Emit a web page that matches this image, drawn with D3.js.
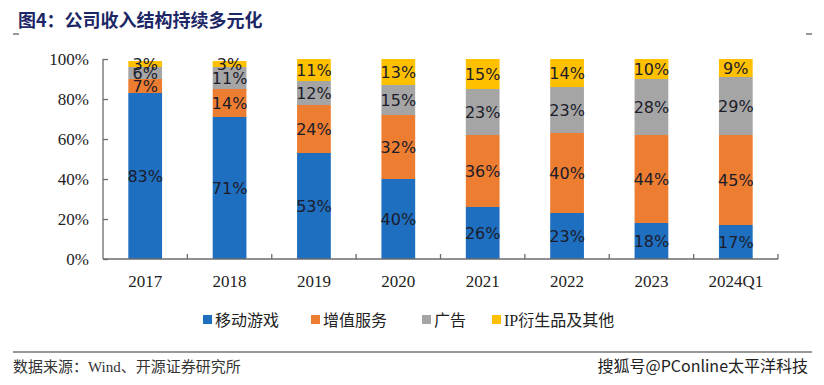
<!DOCTYPE html>
<html>
<head>
<meta charset="utf-8">
<script src="https://cdn.jsdelivr.net/npm/d3@7"></script>
<style>
  body { margin: 0; background: #fff; }
  svg { display: block; }
</style>
</head>
<body>
<svg width="824" height="385"></svg>
<script>
const categories = ["2017", "2018", "2019", "2020", "2021", "2022", "2023", "2024Q1"];
const seriesNames = ["移动游戏", "增值服务", "广告", "IP衍生品及其他"];
const mobileGame = [83, 71, 53, 40, 26, 23, 18, 17];
const valueAdded = [7, 14, 24, 32, 36, 40, 44, 45];
const ads = [6, 11, 12, 15, 23, 23, 28, 29];
const ipOther = [3, 3, 11, 13, 15, 14, 10, 9];
const yTicks = [0, 20, 40, 60, 80, 100];
const colors = ["#1F6FC0", "#ED7D31", "#A5A5A5", "#FFC000"];

const svg = d3.select("svg");
const margin = { left: 103, right: 46, top: 59, bottom: 126 };
const width = 824, height = 385;

const rows = categories.map((c, i) => ({
  cat: c, s0: mobileGame[i], s1: valueAdded[i], s2: ads[i], s3: ipOther[i]
}));
const stack = d3.stack().keys(["s0", "s1", "s2", "s3"])(rows);

const x = d3.scaleBand().domain(categories)
  .range([margin.left, width - margin.right]).paddingInner(0.6).paddingOuter(0.3);
const y = d3.scaleLinear().domain([0, 100]).range([height - margin.bottom, margin.top]);

// title
svg.append("text").attr("x", 18).attr("y", 27)
  .attr("font-family", "Noto Sans CJK SC").attr("font-weight", "bold")
  .attr("font-size", 18).attr("fill", "#1d2766")
  .text("图4：公司收入结构持续多元化");
svg.append("line").attr("x1", 13).attr("x2", 19).attr("y1", 34).attr("y2", 34).attr("stroke", "#333");
svg.append("line").attr("x1", 806).attr("x2", 812).attr("y1", 34).attr("y2", 34).attr("stroke", "#333");

// bars
const g = svg.append("g");
stack.forEach((layer, k) => {
  g.selectAll(null).data(layer).enter().append("rect")
    .attr("x", d => x(d.data.cat))
    .attr("width", x.bandwidth())
    .attr("y", d => y(d[1]))
    .attr("height", d => y(d[0]) - y(d[1]))
    .attr("fill", colors[k]);
  g.selectAll(null).data(layer).enter().append("text")
    .attr("x", d => x(d.data.cat) + x.bandwidth() / 2)
    .attr("y", d => (y(d[0]) + y(d[1])) / 2)
    .attr("dy", "0.36em")
    .attr("text-anchor", "middle")
    .attr("font-family", "DejaVu Sans, sans-serif")
    .attr("font-size", 16)
    .attr("fill", "#1c1c2a")
    .text(d => (d[1] - d[0]) + "%");
});

// y axis
const yAxis = d3.axisLeft(y).tickValues(yTicks).tickFormat(d => d + "%").tickSize(-5).tickPadding(14);
const ya = svg.append("g").attr("transform", `translate(${margin.left},0)`).call(yAxis);
ya.selectAll("text").attr("font-family", "Liberation Serif").attr("font-size", 17).attr("fill", "#222");
ya.selectAll("line, path").attr("stroke", "#6b6b6b").attr("stroke-width", 1.3);
ya.select(".domain").attr("d", `M0,${y(100)}V${y(0)}`);

// x axis
const xa = svg.append("g").attr("transform", `translate(0,${y(0)})`)
  .call(d3.axisBottom(x).tickSize(0).tickPadding(16));
xa.selectAll("text").attr("font-family", "Liberation Serif").attr("font-size", 17).attr("fill", "#222");
xa.select(".domain").attr("stroke", "#6b6b6b").attr("stroke-width", 1.3)
  .attr("d", `M${margin.left},0H${width - margin.right}`);
const step = x.step();
const bounds = categories.map((c, i) => x(c) - (step - x.bandwidth()) / 2 + step);
xa.selectAll(".sep").data(bounds).enter().append("line")
  .attr("x1", d => d).attr("x2", d => d).attr("y1", 0).attr("y2", -5)
  .attr("stroke", "#6b6b6b").attr("stroke-width", 1.3);

// legend
const legX = [203, 311, 422, 492];
const leg = svg.append("g");
seriesNames.forEach((n, i) => {
  leg.append("rect").attr("x", legX[i]).attr("y", 315).attr("width", 9).attr("height", 9).attr("fill", colors[i]);
  leg.append("text").attr("x", legX[i] + 12).attr("y", 326)
    .attr("font-family", "Liberation Serif, Noto Sans CJK SC").attr("font-size", 16).attr("fill", "#222")
    .text(n);
});

// footer
svg.append("line").attr("x1", 13).attr("x2", 812).attr("y1", 352).attr("y2", 352).attr("stroke", "#333").attr("stroke-width", 1);
svg.append("text").attr("x", 13).attr("y", 372)
  .attr("font-family", "Liberation Serif, Noto Sans CJK SC").attr("font-size", 15).attr("fill", "#333")
  .text("数据来源：Wind、开源证券研究所");
svg.append("text").attr("x", 808).attr("y", 372).attr("text-anchor", "end")
  .attr("font-family", "Noto Sans CJK SC").attr("font-size", 16).attr("fill", "#222")
  .text("搜狐号@PConline太平洋科技");
</script>
</body>
</html>
